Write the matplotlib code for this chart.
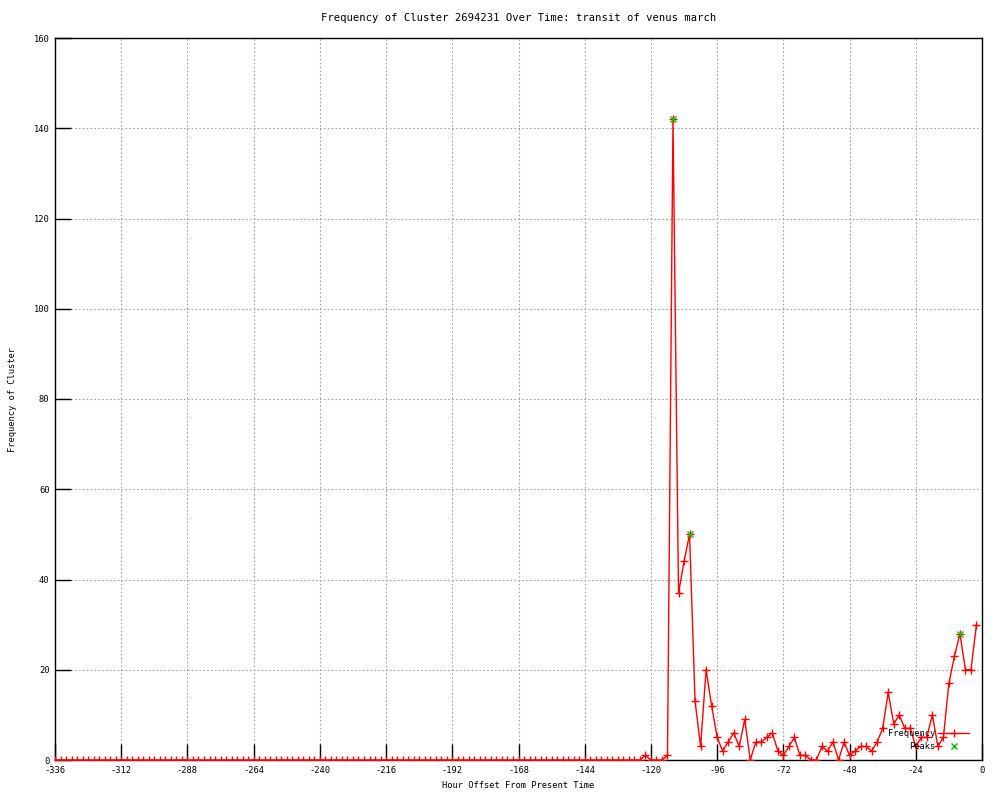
import numpy as np
import matplotlib
matplotlib.use('Agg')
import matplotlib.pyplot as plt

plt.rcParams['font.family'] = ['DejaVu Sans Mono']
plt.rcParams['font.size'] = 6.3
plt.rcParams['axes.unicode_minus'] = False

#-----------------------------------------------------------------------------
# data (one point every 2 hours)

hours = np.arange(-336, 0, 2)

freq = [0, 0, 0, 0, 0, 0, 0, 0, 0, 0, 0, 0, 0, 0, 0, 0, 0, 0, 0, 0,
        0, 0, 0, 0, 0, 0, 0, 0, 0, 0, 0, 0, 0, 0, 0, 0, 0, 0, 0, 0,
        0, 0, 0, 0, 0, 0, 0, 0, 0, 0, 0, 0, 0, 0, 0, 0, 0, 0, 0, 0,
        0, 0, 0, 0, 0, 0, 0, 0, 0, 0, 0, 0, 0, 0, 0, 0, 0, 0, 0, 0,
        0, 0, 0, 0, 0, 0, 0, 0, 0, 0, 0, 0, 0, 0, 0, 0, 0, 0, 0, 0,
        0, 0, 0, 0, 0, 0, 0,
        1, 0, 0, 0, 1, 142, 37, 44, 50, 13,
        3, 20, 12, 5, 2, 4, 6, 3, 9, 0,
        4, 4, 5, 6, 2, 1, 3, 5, 1, 1,
        0, 0, 3, 2, 4, 0, 4, 1, 2, 3,
        3, 2, 4, 7, 15, 8, 10, 7, 7, 3,
        5, 5, 10, 3, 5, 17, 23, 28, 20, 20,
        30]

peak_hours = [-112, -106, -8]
peak_vals = [142, 50, 28]

xticks = list(range(-336, 1, 24))
yticks = list(range(0, 161, 20))

#-----------------------------------------------------------------------------
# plot

fig = plt.figure(figsize=(10, 8), dpi=100)
ax = fig.add_axes([0.055, 0.05, 0.927, 0.9025])

ax.plot(hours, freq, color='#ff0000', lw=1, marker='+', ms=5.5, mew=1,
        label='Frequency', zorder=3)
ax.plot(peak_hours, peak_vals, ls='none', color='#00c000', marker='x',
        ms=5, mew=1, label='Peaks', zorder=4)

ax.set_xlim(-336, 0)
ax.set_ylim(0, 160)
ax.set_xticks(xticks)
ax.set_yticks(yticks)
ax.tick_params(direction='in', length=11.5, width=1, color='black', pad=4)
ax.grid(True, color='#a0a0a0', lw=0.8, ls=(0, (1.5, 2)))
ax.set_axisbelow(True)
for s in ax.spines.values():
    s.set_linewidth(1)

ax.set_title('Frequency of Cluster 2694231 Over Time: transit of venus march', pad=12)
ax.set_xlabel('Hour Offset From Present Time', labelpad=5)
ax.set_ylabel('Frequency of Cluster', labelpad=12)

leg = ax.legend(loc='lower right', bbox_to_anchor=(0.9865, 0.012), frameon=False,
                markerfirst=False, handlelength=3.6, handletextpad=0.3,
                labelspacing=0.45, borderpad=0, borderaxespad=0)

fig.savefig('out.png', dpi=100)
